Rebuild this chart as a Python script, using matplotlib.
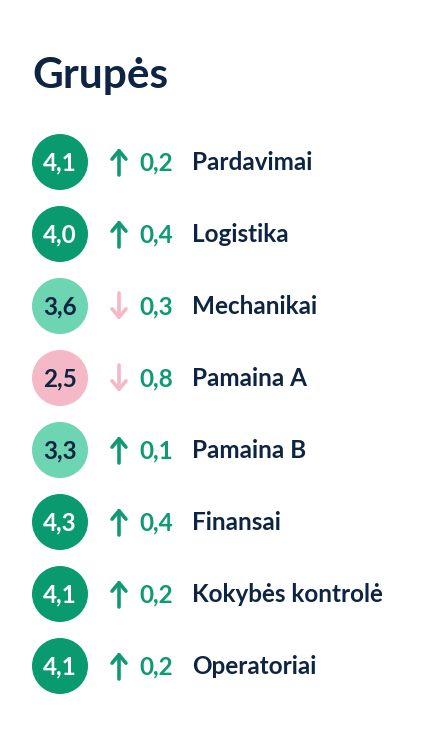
import matplotlib
matplotlib.use("Agg")
import matplotlib.pyplot as plt
from matplotlib.patches import Circle

# data
groups = ["Pardavimai", "Logistika", "Mechanikai", "Pamaina A",
          "Pamaina B", "Finansai", "Kokybės kontrolė", "Operatoriai"]
scores = [4.1, 4.0, 3.6, 2.5, 3.3, 4.3, 4.1, 4.1]
changes = [0.2, 0.4, -0.3, -0.8, 0.1, 0.4, 0.2, 0.2]

NAVY = "#0d2442"
DARK_GREEN = "#0a9a70"
LIGHT_GREEN = "#6dd5b1"
PINK = "#f5b8c6"
DELTA_GREEN = "#0e9a72"

plt.rcParams["font.family"] = ["Lato", "DejaVu Sans"]


def fmt(v):
    return f"{abs(v):.1f}".replace(".", ",")


def circle_style(s):
    if s >= 4.0:
        return DARK_GREEN, "white"
    if s >= 3.0:
        return LIGHT_GREEN, NAVY
    return PINK, NAVY


fig = plt.figure(figsize=(4.4, 7.42), dpi=100)
ax = fig.add_axes([0, 0, 1, 1])
ax.set_xlim(0, 440)
ax.set_ylim(742, 0)
ax.set_aspect("equal")
ax.axis("off")

ax.text(32, 88, "Grupės", fontsize=30.5, fontweight="bold", color=NAVY,
        ha="left", va="baseline")

y0, step = 162, 72
for i, (name, s, d) in enumerate(zip(groups, scores, changes)):
    y = y0 + step * i
    face, tcol = circle_style(s)
    ax.add_patch(Circle((60, y), 28, facecolor=face, edgecolor="none"))
    ax.text(60, y + 1, fmt(s), fontsize=17.5, fontweight="bold", color=tcol,
            ha="center", va="center")

    # trend arrow
    if d >= 0:
        start, end, acol = y + 13, y - 14, DELTA_GREEN
    else:
        start, end, acol = y - 13, y + 14, PINK
    ax.annotate("", xy=(119, end), xytext=(119, start),
                arrowprops=dict(arrowstyle="->,head_length=0.6,head_width=0.5",
                                lw=2.6, color=acol, shrinkA=0, shrinkB=0))

    ax.text(139, y + 1, fmt(d), fontsize=17.5, fontweight="bold",
            color=DELTA_GREEN, ha="left", va="center")
    ax.text(192, y + 1, name, fontsize=17.5, fontweight="bold", color=NAVY,
            ha="left", va="center")

fig.savefig("out.png", dpi=100, facecolor="white")
